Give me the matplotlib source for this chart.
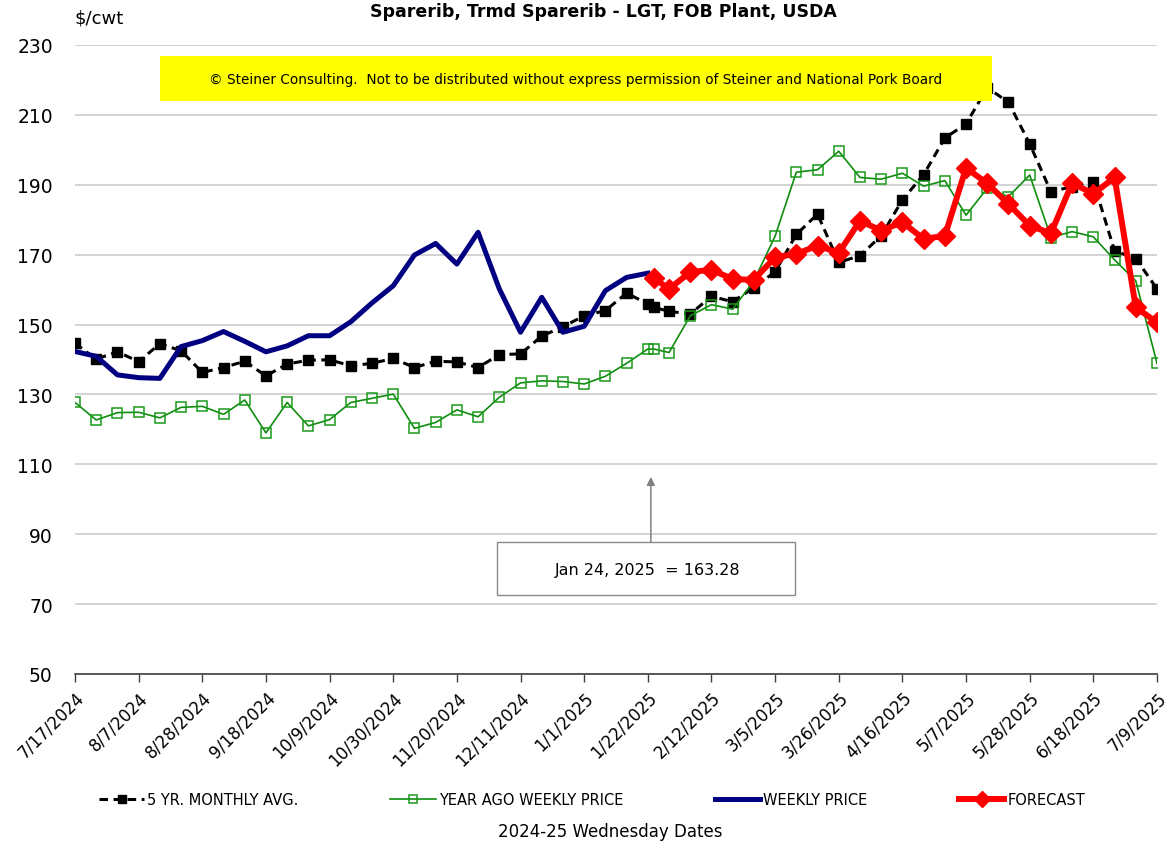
import numpy as np
import pandas as pd
import matplotlib
matplotlib.use("Agg")
import matplotlib.pyplot as plt
import matplotlib.dates as mdates
from matplotlib.patches import Rectangle

# weekly wednesdays plus the Jan 24 forecast start
weeks = list(pd.date_range("2024-07-17", "2025-07-09", freq="7D"))
dates = weeks[:28] + [pd.Timestamp("2025-01-24")] + weeks[28:]

five_yr = [144.6, 140.1, 142.2, 139.4, 144.5, 142.5, 136.3, 137.7, 139.5, 135.3,
           138.7, 139.8, 139.9, 138.2, 138.9, 140.3, 137.7, 139.5, 139.3, 137.7,
           141.4, 141.6, 146.7, 149.4, 152.5, 154.0, 159.0, 155.9, 154.9,
           153.8, 153.0, 158.1, 156.5, 160.6, 165.1, 175.8, 181.6, 167.8, 169.7,
           175.4, 185.7, 192.9, 203.4, 207.4, 217.8, 213.6, 201.7, 188.0, 189.5,
           190.9, 171.1, 168.9, 160.2]
year_ago = [127.7, 122.7, 124.8, 124.9, 123.3, 126.3, 126.6, 124.3, 128.4, 119.0,
            127.7, 121.0, 122.8, 127.7, 128.9, 130.1, 120.3, 122.0, 125.6, 123.6,
            129.2, 133.3, 133.9, 133.7, 133.0, 135.2, 138.9, 143.0, 143.0,
            142.0, 152.5, 155.7, 154.4, 162.5, 175.3, 193.6, 194.3, 199.6, 192.1,
            191.6, 193.3, 189.6, 191.2, 181.3, 189.0, 186.6, 192.8, 174.9, 176.6,
            175.1, 168.5, 162.5, 138.9]
weekly = [142.3, 140.9, 135.6, 134.8, 134.6, 143.7, 145.4, 148.0, 145.2, 142.2,
          143.9, 146.8, 146.8, 150.8, 156.2, 161.1, 169.9, 173.2, 167.3, 176.4,
          160.2, 147.8, 157.8, 147.8, 149.5, 159.7, 163.5, 164.7]
forecast = [163.28, 160.2, 165.0, 165.7, 163.0, 162.8, 169.3, 170.2, 172.6, 170.5,
            179.7, 176.9, 179.3, 174.5, 175.4, 194.8, 190.4, 184.5, 178.3, 176.1,
            190.5, 187.4, 192.1, 154.9, 150.6]

tick_dates = weeks[::3]
y_ticks = list(range(50, 231, 20))

fig = plt.figure(figsize=(11.76, 8.45), dpi=100)
ax = fig.add_axes([75 / 1176, 1 - 675 / 845, (1157 - 75) / 1176, (675 - 46) / 845])

ax.plot(dates, five_yr, color="black", lw=2.2, dashes=(2.8, 1.8), marker="s",
        ms=6.5, label="5 YR. MONTHLY AVG.", zorder=3)
ax.plot(dates, year_ago, color="#0f8c0f", lw=1.2, marker="s", ms=7,
        mfc="none", mec="#1a9a1a", mew=1.1, label="YEAR AGO WEEKLY PRICE", zorder=4)
ax.plot(dates[:28], weekly, color="#000080", lw=3.6, label="WEEKLY PRICE", zorder=5)
ax.plot(dates[28:], forecast, color="#ff0000", lw=4.3, marker="D", ms=10,
        label="FORECAST", zorder=6)

ax.set_ylim(50, 230)
ax.set_yticks(y_ticks)
ax.set_xlim(weeks[0], weeks[-1])
ax.set_xticks(tick_dates)
ax.set_xticklabels([f"{d.month}/{d.day}/{d.year}" for d in tick_dates],
                   rotation=45, ha="right", rotation_mode="anchor", fontsize=12)
ax.tick_params(axis="y", length=0, pad=16, labelsize=13.5)
ax.tick_params(axis="x", length=6, width=1, color="#404040", pad=4)
ax.yaxis.grid(True, color="#d0d0d0", lw=1.3)
ax.set_axisbelow(True)
for s in ["left", "right", "top"]:
    ax.spines[s].set_visible(False)
ax.spines["bottom"].set_color("#404040")
ax.spines["bottom"].set_linewidth(1.2)

# copyright banner
ax.add_patch(Rectangle(((160 - 75) / 1082, (675 - 102) / 629), (992 - 160) / 1082,
                       45 / 629, transform=ax.transAxes, facecolor="#ffff00",
                       edgecolor="none", zorder=10, clip_on=False))
ax.text((576 - 75) / 1082, (675 - 80) / 629,
        "© Steiner Consulting.  Not to be distributed without express permission of Steiner and National Pork Board",
        transform=ax.transAxes, ha="center", va="center", fontsize=9.8, zorder=11)

# callout
ax.add_patch(Rectangle(((497 - 75) / 1082, (675 - 596) / 629), (795 - 497) / 1082,
                       53 / 629, transform=ax.transAxes, facecolor="white",
                       edgecolor="#8a8a8a", lw=1, zorder=7))
ax.text((648 - 75) / 1082, (675 - 571) / 629, "Jan 24, 2025  = 163.28",
        transform=ax.transAxes, ha="center", va="center", fontsize=11.5, zorder=8)
ax.annotate("", xy=(dates[28] - pd.Timedelta(days=1), 106.4),
            xytext=(dates[28] - pd.Timedelta(days=1), 87.9),
            arrowprops=dict(arrowstyle="-|>", color="#808080", lw=1.1,
                            mutation_scale=12, shrinkA=0, shrinkB=0), zorder=8)

fig.text(603 / 1176, 1 - 12 / 845, "Sparerib, Trmd Sparerib - LGT, FOB Plant, USDA",
         ha="center", va="center", fontsize=12.5, fontweight="bold")
fig.text(75 / 1176, 1 - 18 / 845, "\\$/cwt", ha="left", va="center", fontsize=13)
fig.text(610 / 1176, 1 - 832 / 845, "2024-25 Wednesday Dates", ha="center",
         va="center", fontsize=12)

fig.legend(loc="center", bbox_to_anchor=(592 / 1176, 1 - 801 / 845), ncol=4,
           frameon=False, fontsize=10.5, handlelength=3.1, handletextpad=0.2,
           columnspacing=6.3, markerscale=0.8)

fig.savefig("out.png", dpi=100)
